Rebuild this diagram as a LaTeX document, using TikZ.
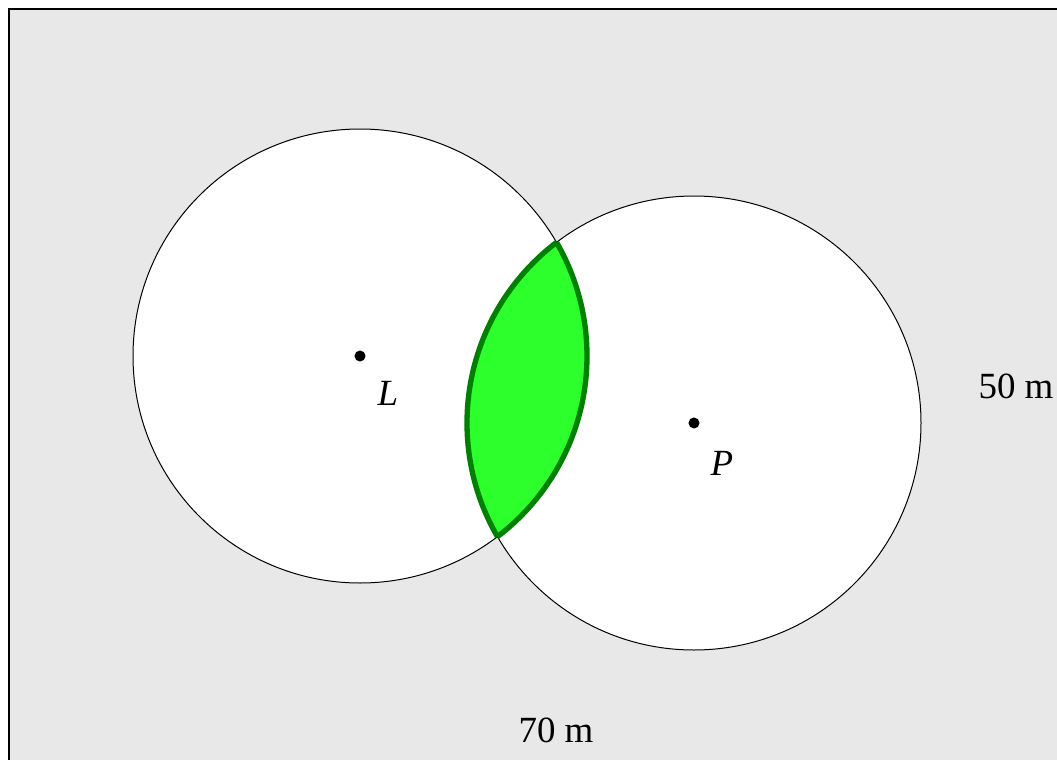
\documentclass[tikz,border=0pt]{standalone}
\usepackage{fontspec}
\setmainfont{Liberation Serif}
\definecolor{bgc}{RGB}{232,232,232}
\definecolor{lensfill}{RGB}{45,255,45}
\definecolor{lensline}{RGB}{0,128,0}
\begin{document}
\begin{tikzpicture}[x=0.75pt,y=-0.75pt,
  disk/.style={draw=black,line width=0.75pt,fill=white},
  dotmark/.style={circle,fill=black,inner sep=0pt,minimum size=8.3pt},
  lbl/.style={font=\fontsize{27.7}{33}\selectfont,inner sep=0pt}]
\useasboundingbox (0,0) rectangle (1057,760);
\clip (0,0) rectangle (1057,760);
\fill[bgc] (9,9) rectangle (1100,800);
\draw[line width=2pt] (1100,9) -- (9,9) -- (9,800);
\coordinate (cL) at (360,356);
\coordinate (cP) at (694,423);
\draw[disk] (cL) circle[radius=170.25pt];
\draw[disk] (cP) circle[radius=170.25pt];
\begin{scope}
  \clip (cL) circle[radius=170.25pt];
  \fill[lensfill] (cP) circle[radius=170.25pt];
  \draw[lensline,line width=4pt] (cP) circle[radius=170.25pt];
\end{scope}
\begin{scope}
  \clip (cP) circle[radius=170.25pt];
  \draw[lensline,line width=4pt] (cL) circle[radius=170.25pt];
\end{scope}
\node[dotmark] (dL) at (cL) {};
\node[dotmark] (dP) at (cP) {};
\node[lbl] (tL) at (388,393) {\textit{L}};
\node[lbl] (tP) at (722,463) {\textit{P}};
\node[lbl] (t50) at (1016,386) {50 m};
\node[lbl] (t70) at (556,730) {70 m};
\end{tikzpicture}
\end{document}
